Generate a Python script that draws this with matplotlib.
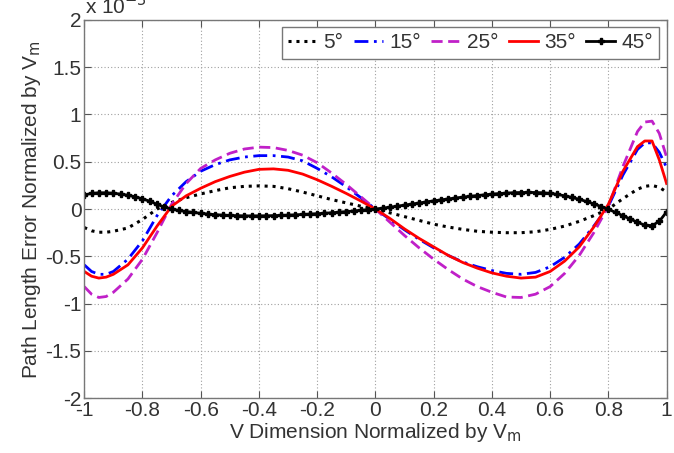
# import libraries
import matplotlib
matplotlib.use('Agg')
from matplotlib import pyplot as plt
from matplotlib.ticker import FixedLocator, FixedFormatter

plt.rcParams['font.family'] = ['Liberation Sans', 'DejaVu Sans']
plt.rcParams['axes.unicode_minus'] = False

# x positions shared by the four line series
x = [-1.00, -0.975, -0.95, -0.925, -0.90, -0.85, -0.80, -0.75, -0.70, -0.65,
     -0.60, -0.55, -0.50, -0.45, -0.40, -0.35, -0.30, -0.25, -0.20, -0.15,
     -0.10, -0.05, 0.00, 0.05, 0.10, 0.15, 0.20, 0.25, 0.30, 0.35,
     0.40, 0.45, 0.50, 0.55, 0.60, 0.65, 0.70, 0.75, 0.80, 0.85,
     0.90, 0.925, 0.95, 0.975, 1.00]

# path length error (x 1e-3) for each angle
err_5 = [-0.195, -0.23, -0.245, -0.245, -0.235, -0.20, -0.11, 0.00, 0.07, 0.12,
         0.16, 0.195, 0.225, 0.24, 0.245, 0.24, 0.215, 0.18, 0.14, 0.10,
         0.065, 0.03, 0.00, -0.04, -0.08, -0.12, -0.16, -0.19, -0.215, -0.235,
         -0.245, -0.25, -0.25, -0.24, -0.215, -0.18, -0.13, -0.07, 0.00, 0.11,
         0.21, 0.24, 0.25, 0.23, 0.18]
err_15 = [-0.59, -0.66, -0.69, -0.69, -0.66, -0.53, -0.335, -0.07, 0.14, 0.29,
          0.40, 0.47, 0.52, 0.55, 0.565, 0.565, 0.55, 0.51, 0.43, 0.34,
          0.235, 0.12, 0.00, -0.11, -0.22, -0.32, -0.41, -0.49, -0.56, -0.61,
          -0.65, -0.68, -0.69, -0.67, -0.61, -0.51, -0.37, -0.18, 0.03, 0.36,
          0.63, 0.70, 0.70, 0.60, 0.44]
err_25 = [-0.82, -0.90, -0.935, -0.925, -0.88, -0.74, -0.53, -0.25, 0.05, 0.27,
          0.43, 0.52, 0.59, 0.635, 0.655, 0.65, 0.62, 0.57, 0.49, 0.38,
          0.26, 0.13, 0.00, -0.14, -0.28, -0.41, -0.53, -0.64, -0.74, -0.82,
          -0.88, -0.93, -0.935, -0.90, -0.82, -0.68, -0.49, -0.25, 0.03, 0.45,
          0.82, 0.92, 0.93, 0.80, 0.55]
err_35 = [-0.66, -0.71, -0.73, -0.72, -0.69, -0.59, -0.41, -0.18, 0.03, 0.14,
          0.22, 0.29, 0.345, 0.39, 0.42, 0.425, 0.41, 0.37, 0.31, 0.24,
          0.165, 0.085, 0.00, -0.10, -0.21, -0.31, -0.40, -0.49, -0.565, -0.625,
          -0.675, -0.71, -0.73, -0.72, -0.66, -0.55, -0.40, -0.19, 0.05, 0.40,
          0.66, 0.72, 0.72, 0.52, 0.27]

# 45 degree series is sampled more densely (markers)
x_45 = [-1.000, -0.975, -0.950, -0.925, -0.900, -0.875, -0.850, -0.825, -0.800, -0.775,
        -0.750, -0.725, -0.700, -0.675, -0.650, -0.625, -0.600, -0.575, -0.550, -0.525,
        -0.500, -0.475, -0.450, -0.425, -0.400, -0.375, -0.350, -0.325, -0.300, -0.275,
        -0.250, -0.225, -0.200, -0.175, -0.150, -0.125, -0.100, -0.075, -0.050, -0.025,
        0.000, 0.025, 0.050, 0.075, 0.100, 0.125, 0.150, 0.175, 0.200, 0.225,
        0.250, 0.275, 0.300, 0.325, 0.350, 0.375, 0.400, 0.425, 0.450, 0.475,
        0.500, 0.525, 0.550, 0.575, 0.600, 0.625, 0.650, 0.675, 0.700, 0.725,
        0.750, 0.775, 0.800, 0.825, 0.850, 0.875, 0.900, 0.925, 0.950, 0.975,
        1.000]
err_45 = [0.150, 0.165, 0.172, 0.172, 0.167, 0.158, 0.146, 0.130, 0.108, 0.083,
          0.050, 0.022, 0.000, -0.015, -0.026, -0.036, -0.045, -0.053, -0.059, -0.064,
          -0.068, -0.070, -0.072, -0.072, -0.072, -0.071, -0.069, -0.067, -0.064, -0.061,
          -0.057, -0.053, -0.049, -0.044, -0.039, -0.033, -0.027, -0.020, -0.013, -0.006,
          0.000, 0.010, 0.020, 0.030, 0.042, 0.053, 0.064, 0.076, 0.087, 0.097,
          0.107, 0.117, 0.126, 0.135, 0.143, 0.151, 0.158, 0.164, 0.169, 0.173,
          0.175, 0.176, 0.175, 0.172, 0.166, 0.155, 0.140, 0.123, 0.103, 0.080,
          0.055, 0.027, -0.003, -0.035, -0.070, -0.105, -0.140, -0.170, -0.175, -0.130,
          -0.030]

labels = ['5°', '15°', '25°', '35°', '45°']

xticks = [-1, -0.8, -0.6, -0.4, -0.2, 0, 0.2, 0.4, 0.6, 0.8, 1]
xtick_labels = ['-1', '-0.8', '-0.6', '-0.4', '-0.2', '0', '0.2', '0.4', '0.6', '0.8', '1']
yticks = [-2, -1.5, -1, -0.5, 0, 0.5, 1, 1.5, 2]
ytick_labels = ['-2', '-1.5', '-1', '-0.5', '0', '0.5', '1', '1.5', '2']

txt_color = '#333333'

# create figure
fig = plt.figure(figsize=(6.74, 4.53), dpi=100)
ax = fig.add_axes([0.125, 0.121, 0.864, 0.835])

ax.plot(x, err_5, color='black', lw=2.2, linestyle=(0, (1, 1.6)), label=labels[0])
ax.plot(x, err_15, color='#0000ff', lw=2.0, linestyle=(0, (5, 2, 1, 2)), label=labels[1])
ax.plot(x, err_25, color='#c020c8', lw=2.0, linestyle=(0, (4, 2)), label=labels[2])
ax.plot(x, err_35, color='#ff0000', lw=2.0, linestyle='-', label=labels[3])
ax.plot(x_45, err_45, color='black', lw=2.0, marker='P', markersize=5, label=labels[4])

ax.set_xlim(-1, 1)
ax.set_ylim(-2, 2)
ax.xaxis.set_major_locator(FixedLocator(xticks))
ax.xaxis.set_major_formatter(FixedFormatter(xtick_labels))
ax.yaxis.set_major_locator(FixedLocator(yticks))
ax.yaxis.set_major_formatter(FixedFormatter(ytick_labels))

# matlab look: grid, box, ticks inside
ax.grid(True, linestyle=(0, (1, 2)), color='#a0a0a0', lw=0.8)
ax.tick_params(direction='in', top=True, right=True, length=5, width=0.8,
               colors='#555555', labelcolor=txt_color, labelsize=15, pad=2)
for s in ax.spines.values():
    s.set_color('#777777')
    s.set_linewidth(1.0)

ax.set_xlabel('V Dimension Normalized by V$_\\mathrm{m}$', fontsize=15, color=txt_color, labelpad=1)
ax.set_ylabel('Path Length Error Normalized by V$_\\mathrm{m}$', fontsize=15, color=txt_color, labelpad=2)

# exponent label at the top left (partly cut off like the original)
fig.text(85 / 674, 1 - 14 / 453, 'x 10$^{-3}$', fontsize=15, color=txt_color, va='baseline')

leg = ax.legend(loc='upper right', ncol=5, fontsize=15, handlelength=1.4,
                handletextpad=0.3, columnspacing=0.5, borderpad=0.3,
                fancybox=False, framealpha=1, borderaxespad=0.35)
leg.get_frame().set_edgecolor('#777777')
leg.get_frame().set_linewidth(1.0)
for t in leg.get_texts():
    t.set_color(txt_color)

plt.savefig('out.png', dpi=100)
